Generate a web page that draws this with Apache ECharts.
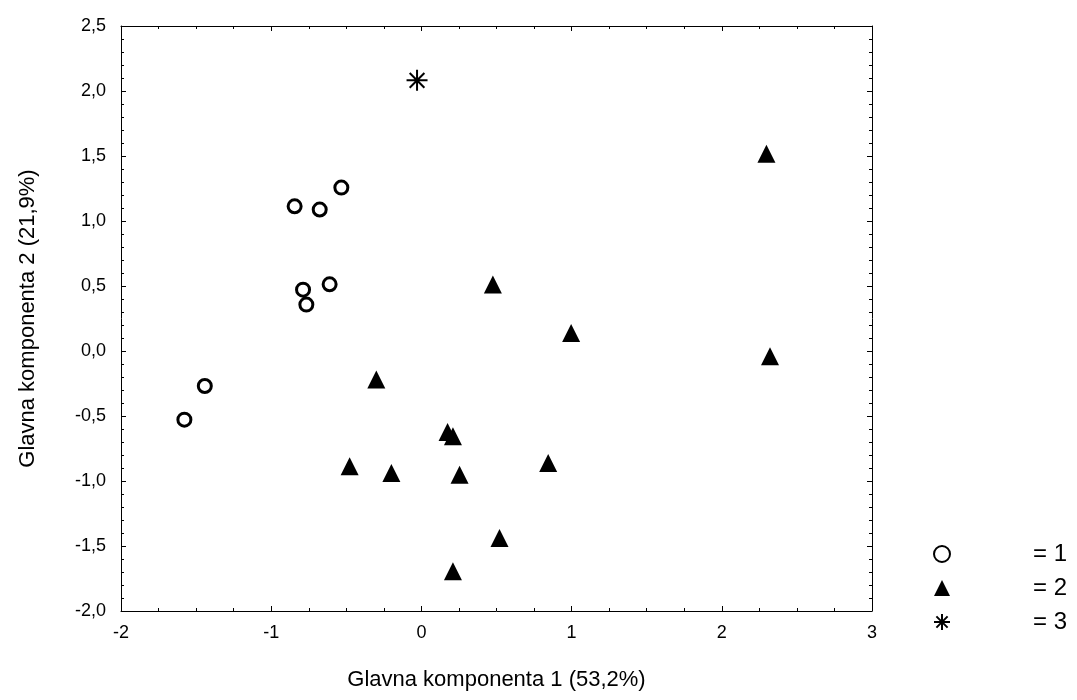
<!DOCTYPE html>
<html>
<head>
<meta charset="utf-8">
<script src="https://cdn.jsdelivr.net/npm/echarts@6/dist/echarts.min.js"></script>
<style>
html, body { margin: 0; padding: 0; background: #fff; }
#chart { width: 1077px; height: 700px; }
</style>
</head>
<body>
<div id="chart"></div>
<script>
// tocke po grupama [komponenta 1, komponenta 2]
const group1 = [
  [-0.844, 1.113], [-0.677, 1.088], [-0.533, 1.257], [-0.788, 0.472],
  [-0.766, 0.357], [-0.611, 0.513], [-1.442, -0.269], [-1.578, -0.528]
]
const group2 = [
  [2.297, 1.518], [0.476, 0.511], [0.997, 0.138], [2.321, -0.041],
  [-0.300, -0.220], [0.174, -0.623], [0.210, -0.656], [-0.478, -0.887],
  [-0.200, -0.938], [0.254, -0.951], [0.844, -0.862], [0.520, -1.438],
  [0.210, -1.695]
]
const group3 = [
  [-0.029, 2.082]
]
const groupNames = ['= 1', '= 2', '= 3']
const xTitle = 'Glavna komponenta 1 (53,2%)'
const yTitle = 'Glavna komponenta 2 (21,9%)'

const font = 'Liberation Sans, Arial, sans-serif'
const star = 'path://M0,10 L20,10 M10,0 L10,20 M3,3 L17,17 M17,3 L3,17'

function frameAxis(pos, min, max, interval, minorSplit) {
  return {
    type: 'value',
    position: pos,
    min: min,
    max: max,
    interval: interval,
    axisLine: { show: true, onZero: false, lineStyle: { color: '#000', width: 1 } },
    axisTick: { show: true, inside: true, length: 5, lineStyle: { color: '#000' } },
    minorTick: { show: true, splitNumber: minorSplit, length: 3, lineStyle: { color: '#000' } },
    splitLine: { show: false },
    axisLabel: { show: false }
  }
}

const xMain = frameAxis('bottom', -2, 3, 1, 4)
xMain.axisLabel = {
  show: true,
  margin: 13,
  color: '#000',
  fontFamily: font,
  fontSize: 18,
  formatter: v => String(v)
}
xMain.name = xTitle
xMain.nameLocation = 'middle'
xMain.nameGap = 58
xMain.nameTextStyle = { color: '#000', fontFamily: font, fontSize: 22 }

const yMain = frameAxis('left', -2, 2.5, 0.5, 5)
yMain.axisLabel = {
  show: true,
  margin: 15,
  color: '#000',
  fontFamily: font,
  fontSize: 18,
  padding: [8, 0, 0, 0],
  formatter: v => v.toFixed(1).replace('.', ',')
}
yMain.name = yTitle
yMain.nameLocation = 'middle'
yMain.nameGap = 82
yMain.nameTextStyle = { color: '#000', fontFamily: font, fontSize: 22 }

const chart = echarts.init(document.getElementById('chart'))
chart.setOption({
  animation: false,
  backgroundColor: '#fff',
  grid: { left: 121, right: 205, top: 26, bottom: 89 },
  xAxis: [xMain, frameAxis('top', -2, 3, 1, 4)],
  yAxis: [yMain, frameAxis('right', -2, 2.5, 0.5, 5)],
  legend: {
    orient: 'vertical',
    left: 933,
    top: 542,
    padding: 0,
    itemWidth: 16,
    itemHeight: 16,
    itemGap: 10,
    data: groupNames,
    textStyle: { color: '#000', fontFamily: font, fontSize: 24, padding: [0, 0, 0, 78] }
  },
  series: [
    {
      name: groupNames[0],
      type: 'scatter',
      symbol: 'circle',
      symbolSize: 13,
      itemStyle: { color: '#fff', borderColor: '#000', borderWidth: 3, opacity: 1 },
      data: group1
    },
    {
      name: groupNames[1],
      type: 'scatter',
      symbol: 'triangle',
      symbolSize: 18,
      itemStyle: { color: '#000', opacity: 1 },
      data: group2
    },
    {
      name: groupNames[2],
      type: 'scatter',
      symbol: star,
      symbolSize: 21,
      itemStyle: { color: 'rgba(0,0,0,0)', borderColor: '#000', borderWidth: 2, opacity: 1 },
      data: group3
    }
  ]
})
</script>
</body>
</html>
